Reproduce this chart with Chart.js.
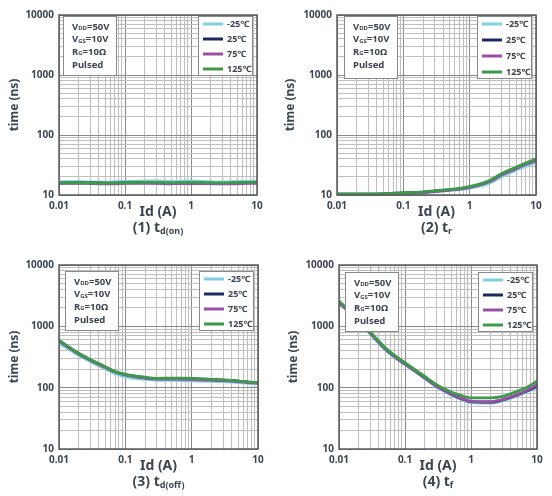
<!DOCTYPE html>
<html>
<head>
<meta charset="utf-8">
<script src="https://cdn.jsdelivr.net/npm/chart.js@4/dist/chart.umd.min.js"></script>
<style>
  body { margin: 0; background: #fff; }
  #wrap { position: relative; width: 552px; height: 496px; }
  #wrap canvas { position: absolute; }
</style>
</head>
<body>
<div id="wrap">
  <canvas id="c1" width="276" height="248" style="left:0;top:0"></canvas>
  <canvas id="c2" width="276" height="248" style="left:276px;top:0"></canvas>
  <canvas id="c3" width="276" height="248" style="left:0;top:248px"></canvas>
  <canvas id="c4" width="276" height="248" style="left:276px;top:248px"></canvas>
</div>
<script>
// drain current Id (A)
var idA = [0.01, 0.02, 0.03, 0.05, 0.07, 0.1, 0.2, 0.3, 0.5, 0.7, 1, 2, 3, 5, 7, 10];

var tempLabels = ['-25℃', '25℃', '75℃', '125℃'];
var tempColors = ['#7fcfe0', '#1b2a5e', '#9a4ea8', '#3c9a48'];

// (1) td(on), ns
var tdOnM25 = [16.6, 16.7, 16.5, 16.3, 16.6, 16.9, 17.1, 17.2, 16.7, 16.9, 17.1, 16.6, 16.5, 16.8, 16.9, 17.1];
var tdOn25  = [15.8, 16.0, 15.9, 15.8, 15.7, 16.0, 16.1, 15.9, 15.6, 15.8, 15.8, 15.7, 15.6, 15.8, 16.0, 16.1];
var tdOn75  = [15.6, 15.7, 15.5, 15.4, 15.4, 15.6, 15.7, 15.6, 15.4, 15.5, 15.5, 15.4, 15.3, 15.4, 15.6, 15.7];
var tdOn125 = [15.9, 16.0, 15.9, 15.8, 15.9, 16.0, 16.2, 16.2, 16.0, 16.1, 16.2, 16.0, 15.9, 16.1, 16.2, 16.3];

// (2) tr, ns
var trM25 = [10.1, 10.1, 10.1, 10.2, 10.3, 10.5, 10.9, 11.3, 11.8, 12.3, 13.0, 15.8, 20.0, 26.0, 30.0, 35.0];
var tr25  = [10.3, 10.3, 10.3, 10.4, 10.6, 10.8, 11.2, 11.6, 12.2, 12.7, 13.5, 17.0, 22.0, 28.0, 33.0, 38.0];
var tr75  = [10.2, 10.2, 10.2, 10.3, 10.4, 10.5, 11.0, 11.5, 12.1, 12.6, 13.4, 16.8, 21.5, 27.5, 32.5, 37.5];
var tr125 = [10.4, 10.4, 10.4, 10.5, 10.7, 10.9, 11.3, 11.8, 12.4, 12.9, 13.8, 17.5, 22.5, 29.0, 34.0, 40.0];

// (3) td(off), ns
var tdOffM25 = [530, 335, 265, 203, 170, 150, 136, 132, 131, 130, 129, 127, 125, 121, 118, 116];
var tdOff25  = [585, 358, 283, 217, 182, 163, 145, 140, 140, 140, 140, 135, 132, 128, 123, 120];
var tdOff75  = [575, 352, 278, 213, 180, 162, 143, 138, 138, 137, 136, 133, 130, 126, 122, 119];
var tdOff125 = [590, 360, 285, 218, 183, 165, 148, 142, 143, 143, 142, 137, 134, 129, 124, 121];

// (4) tf, ns
var tfM25 = [2450, 1150, 750, 415, 310, 238, 141, 103, 76, 65, 56.5, 56, 61, 73, 86, 102];
var tf25  = [2500, 1200, 770, 430, 320, 244, 145, 106, 79, 67, 59, 58, 63, 76, 88, 107];
var tf75  = [2500, 1200, 770, 430, 320, 245, 146, 107, 80, 68, 60, 59, 64, 77, 90, 112];
var tf125 = [2600, 1250, 800, 450, 335, 255, 152, 112, 85, 75, 68, 68, 72, 87, 101, 127];

var conditions = [
  [['V', 0], ['DD', 1], ['=50V', 0]],
  [['V', 0], ['GS', 1], ['=10V', 0]],
  [['R', 0], ['G', 1], ['=10Ω', 0]],
  [['Pulsed', 0]]
];

var FONT = '"Noto Sans", "DejaVu Sans", sans-serif';
var TXT = '#3b4550';

function isDecade(v) {
  var l = Math.log10(v);
  return Math.abs(l - Math.round(l)) < 1e-6;
}

function logTicks(min, max) {
  var t = [];
  for (var e = Math.round(Math.log10(min)); e < Math.round(Math.log10(max)); e++) {
    for (var m = 1; m < 10; m++) t.push({ value: +(m * Math.pow(10, e)).toPrecision(3) });
  }
  t.push({ value: max });
  return t;
}

function partsWidth(ctx, parts, big, small) {
  var w = 0;
  parts.forEach(function (p) {
    ctx.font = 'bold ' + (p[1] ? small : big) + 'px ' + FONT;
    w += ctx.measureText(p[0]).width;
  });
  return w;
}

function drawParts(ctx, parts, x, y, big, small, drop) {
  ctx.textAlign = 'left';
  ctx.textBaseline = 'middle';
  parts.forEach(function (p) {
    ctx.font = 'bold ' + (p[1] ? small : big) + 'px ' + FONT;
    ctx.fillText(p[0], x, y + (p[1] ? drop : 0));
    x += ctx.measureText(p[0]).width;
  });
}

var decoPlugin = {
  id: 'deco',
  afterDatasetsDraw: function (chart, args, o) {
    var ctx = chart.ctx, a = chart.chartArea;
    ctx.save();
    // frame
    ctx.strokeStyle = '#5a5a5a';
    ctx.lineWidth = 1.5;
    ctx.strokeRect(a.left, a.top, a.right - a.left, a.bottom - a.top);

    // conditions box
    var bx = a.left + o.boxLeft, by = a.top + o.boxTop, bw = 53, bh = o.boxH;
    ctx.fillStyle = '#fff';
    ctx.fillRect(bx, by, bw, bh);
    ctx.strokeStyle = '#8a8a8a';
    ctx.lineWidth = 1;
    ctx.strokeRect(bx + 0.5, by + 0.5, bw, bh);
    ctx.fillStyle = TXT;
    conditions.forEach(function (line, i) {
      drawParts(ctx, line, bx + 9, by + 11 + i * 12.6, 9.5, 6, 1.5);
    });

    // legend box
    var lx = a.right - 59, lw = 54;
    ctx.fillStyle = '#fff';
    ctx.fillRect(lx, by, lw, bh);
    ctx.strokeStyle = '#8a8a8a';
    ctx.strokeRect(lx + 0.5, by + 0.5, lw, bh);
    chart.data.datasets.forEach(function (ds, i) {
      var ry = by + 8 + i * (bh - 14) / 3;
      ctx.strokeStyle = ds.borderColor;
      ctx.lineWidth = 3;
      ctx.beginPath();
      ctx.moveTo(lx + 5, ry);
      ctx.lineTo(lx + 25, ry);
      ctx.stroke();
      ctx.fillStyle = TXT;
      ctx.font = 'bold 9px ' + FONT;
      ctx.textAlign = 'left';
      ctx.textBaseline = 'middle';
      ctx.fillText(ds.label, lx + 29, ry);
    });

    // axis titles
    var cx = (a.left + a.right) / 2;
    ctx.fillStyle = TXT;
    ctx.font = 'bold 14px ' + FONT;
    ctx.textAlign = 'center';
    ctx.textBaseline = 'middle';
    ctx.fillText('Id (A)', cx, a.bottom + 17);

    var big = 14, small = 9;
    var w = partsWidth(ctx, o.caption, big, small);
    drawParts(ctx, o.caption, cx - w / 2, a.bottom + 33, big, small, 3);

    ctx.save();
    ctx.translate(o.yTitleX, (a.top + a.bottom) / 2);
    ctx.rotate(-Math.PI / 2);
    ctx.font = 'bold 12px ' + FONT;
    ctx.textAlign = 'center';
    ctx.textBaseline = 'middle';
    ctx.fillText('time (ns)', 0, 0);
    ctx.restore();

    ctx.restore();
  }
};

function makePanel(id, series, geo, caption) {
  var W = 276, H = 248;
  var datasets = series.map(function (vals, i) {
    return {
      label: tempLabels[i],
      data: idA.map(function (x, k) { return { x: x, y: vals[k] }; }),
      borderColor: tempColors[i],
      borderWidth: 2.8,
      pointRadius: 0,
      cubicInterpolationMode: 'monotone',
      order: 3 - i
    };
  });
  var gridColor = function (c) {
    return c.tick && isDecade(c.tick.value) ? '#8a8a8a' : '#bfbfbf';
  };
  var tickOpts = {
    autoSkip: false,
    maxRotation: 0,
    color: TXT,
    font: { family: FONT, size: 10, weight: 'bold' },
    callback: function (v) { return isDecade(v) ? String(v) : ''; }
  };
  new Chart(document.getElementById(id), {
    type: 'line',
    data: { datasets: datasets },
    options: {
      responsive: false,
      animation: false,
      devicePixelRatio: 1,
      layout: { padding: { top: geo.top, right: W - geo.right, left: 0, bottom: 0 } },
      plugins: {
        legend: { display: false },
        tooltip: { enabled: false },
        deco: { caption: caption, boxLeft: geo.boxLeft, boxTop: geo.boxTop, boxH: geo.boxH, yTitleX: geo.yTitleX }
      },
      scales: {
        x: {
          type: 'logarithmic', min: 0.01, max: 10,
          afterBuildTicks: function (s) { s.ticks = logTicks(0.01, 10); },
          afterFit: function (s) { s.height = H - geo.bottom; },
          grid: { color: gridColor, lineWidth: 1, drawTicks: false },
          border: { display: false },
          ticks: Object.assign({ padding: 5 }, tickOpts)
        },
        y: {
          type: 'logarithmic', min: 10, max: 10000,
          afterBuildTicks: function (s) { s.ticks = logTicks(10, 10000); },
          afterFit: function (s) { s.width = geo.left; },
          grid: { color: gridColor, lineWidth: 1, drawTicks: false },
          border: { display: false },
          ticks: Object.assign({ padding: 5 }, tickOpts)
        }
      }
    },
    plugins: [decoPlugin]
  });
}

makePanel('c1', [tdOnM25, tdOn25, tdOn75, tdOn125],
  { left: 59, right: 257, top: 15, bottom: 195, boxLeft: 4, boxTop: 1, boxH: 59, yTitleX: 15 },
  [['(1) t', 0], ['d(on)', 1]]);
makePanel('c2', [trM25, tr25, tr75, tr125],
  { left: 61, right: 260, top: 15, bottom: 195, boxLeft: 7, boxTop: 1, boxH: 62, yTitleX: 15 },
  [['(2) t', 0], ['r', 1]]);
makePanel('c3', [tdOffM25, tdOff25, tdOff75, tdOff125],
  { left: 59, right: 258, top: 17, bottom: 201, boxLeft: 6, boxTop: 6, boxH: 59, yTitleX: 15 },
  [['(3) t', 0], ['d(off)', 1]]);
makePanel('c4', [tfM25, tf25, tf75, tf125],
  { left: 63, right: 261, top: 17, bottom: 201, boxLeft: 6, boxTop: 7, boxH: 59, yTitleX: 18 },
  [['(4) t', 0], ['f', 1]]);
</script>
</body>
</html>
